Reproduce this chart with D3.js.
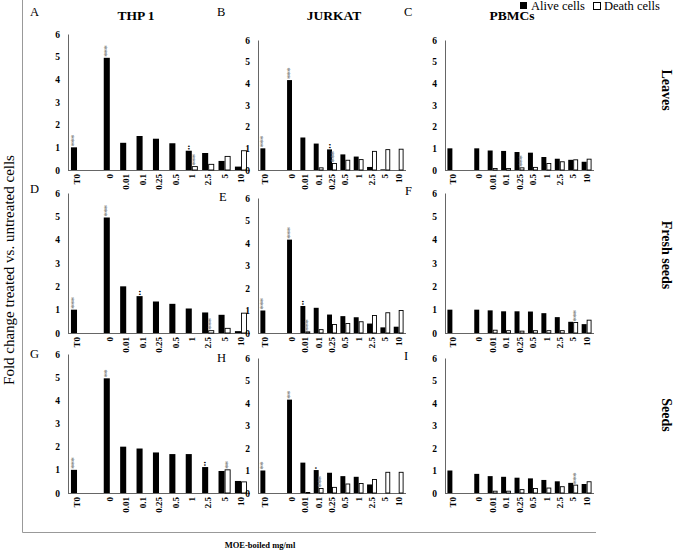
<!DOCTYPE html>
<html><head><meta charset="utf-8">
<script src="https://cdn.jsdelivr.net/npm/d3@7"></script>
<style>body{margin:0;background:#fff}svg{display:block}text{font-family:"Liberation Serif","Times New Roman",serif}</style>
</head><body><svg id="c" width="677" height="555"></svg>
<script>
// ---------- DATA ----------
const doses = ["T0","0","0.01","0.1","0.25","0.5","1","2.5","5","10"];
const cellLines = ["THP 1","JURKAT","PBMCs"];
const extracts = ["Leaves","Fresh seeds","Seeds"];
const panelLetters = ["A","B","C","D","E","F","G","H","I"];
const yTicks = [0,1,2,3,4,5,6];
const legendItems = ["Alive cells","Death cells"];

const aliveA = [1.0,4.95,1.2,1.5,1.38,1.18,0.85,0.75,0.4,0.15];
const deathA = [0,0,0,0,0,0,0.15,0.25,0.6,0.85];
const aliveB = [1.0,4.15,1.5,1.22,0.95,0.72,0.62,0.14,0.03,0];
const deathB = [0,0,0,0.1,0.3,0.45,0.48,0.86,0.94,0.96];
const aliveC = [1.0,1.0,0.9,0.88,0.83,0.8,0.6,0.52,0.47,0.38];
const deathC = [0,0,0.07,0.07,0.1,0.12,0.3,0.38,0.47,0.5];
const aliveD = [1.0,4.95,2.0,1.58,1.35,1.25,1.05,0.88,0.78,0.08];
const deathD = [0,0,0,0,0,0,0,0.1,0.2,0.85];
const aliveE = [1.0,4.15,1.2,1.12,0.82,0.75,0.7,0.42,0.25,0.28];
const deathE = [0,0,0.05,0.15,0.38,0.42,0.5,0.78,0.9,1.0];
const aliveF = [1.0,1.0,0.97,0.93,0.93,0.92,0.85,0.68,0.48,0.38];
const deathF = [0,0,0.12,0.1,0.08,0.1,0.1,0.1,0.45,0.55];
const aliveG = [1.0,4.95,2.0,1.92,1.75,1.68,1.68,1.12,0.95,0.52];
const deathG = [0,0,0,0,0,0,0,0,1.0,0.48];
const aliveH = [1.0,4.15,1.35,1.02,0.9,0.75,0.72,0.38,0,0];
const deathH = [0,0,0.02,0.2,0.25,0.4,0.42,0.6,0.92,0.92];
const aliveI = [1.0,0.85,0.75,0.72,0.68,0.65,0.58,0.52,0.45,0.4];
const deathI = [0,0,0.08,0.08,0.15,0.2,0.22,0.28,0.35,0.5];

// significance marks: [dose, series, label]
const marksA = [["T0","alive","***"],["0","alive","***"],["1","alive","••"],["1","death","***"]];
const marksB = [["T0","alive","***"],["0","alive","***"],["0.25","alive","••"],["0.25","death","***"]];
const marksC = [["0.25","death","***"]];
const marksD = [["T0","alive","***"],["0","alive","***"],["0.1","alive","••"],["2.5","death","***"]];
const marksE = [["T0","alive","***"],["0","alive","***"],["0.01","alive","••"],["0.01","death","***"]];
const marksF = [["5","death","***"]];
const marksG = [["T0","alive","***"],["0","alive","**"],["2.5","alive","••"],["5","death","**"]];
const marksH = [["T0","alive","**"],["0","alive","**"],["0.1","alive","•"],["0.1","death","***"]];
const marksI = [["5","death","***"]];

const alive = [aliveA,aliveB,aliveC,aliveD,aliveE,aliveF,aliveG,aliveH,aliveI];
const death = [deathA,deathB,deathC,deathD,deathE,deathF,deathG,deathH,deathI];
const marks = [marksA,marksB,marksC,marksD,marksE,marksF,marksG,marksH,marksI];

// ---------- LAYOUT ----------
const svg = d3.select("#c");
const colRange = [[68,250],[258,406],[445,594]];
const rowZero = [170,333,493];
const panelTop = [[34,40,40],[193,198,193],[354,358,358]];
const letterPos = [[30,16],[217,16],[404,16],[30,193],[219,201],[405,195],[30,358],[217,362],[404,360]];
const slots = ["T0","gap"].concat(doses.slice(1));
const serif = '"Liberation Serif","Times New Roman",serif';

// frame
svg.append("path").attr("d","M22.5,0V532.5H596").attr("fill","none").attr("stroke","#999").attr("stroke-width",1);

// y title
svg.append("text").attr("transform","translate(14,270) rotate(-90)").attr("text-anchor","middle")
  .attr("font-size",15).text("Fold change treated vs. untreated cells");
// x title
svg.append("text").attr("x",260).attr("y",548).attr("text-anchor","middle").attr("font-size",8.5)
  .attr("font-weight","bold").text("MOE-boiled mg/ml");

// legend
const lg = svg.append("g");
lg.append("rect").attr("x",520).attr("y",2).attr("width",7).attr("height",7).attr("fill","#000");
lg.append("text").attr("x",531).attr("y",10).attr("font-size",12.5).text(legendItems[0]);
lg.append("rect").attr("x",593.5).attr("y",2.5).attr("width",7).attr("height",7).attr("fill","#fff").attr("stroke","#000");
lg.append("text").attr("x",604).attr("y",10).attr("font-size",12.5).text(legendItems[1]);

// column titles
const titleX = [136,334,512];
cellLines.forEach((t,i)=>svg.append("text").attr("x",titleX[i]).attr("y",20).attr("text-anchor","middle")
  .attr("font-size",13.5).attr("font-weight","bold").text(t));

// row labels
const rowLabelY = [90,255,415];
extracts.forEach((t,i)=>svg.append("text").attr("transform",`translate(662,${rowLabelY[i]}) rotate(90)`)
  .attr("text-anchor","middle").attr("font-size",14).attr("font-weight","bold").text(t));

// panels
for (let r=0;r<3;r++) for (let c=0;c<3;c++) {
  const k = r*3+c;
  const g = svg.append("g");
  const x = d3.scaleBand().domain(slots).range(colRange[c]).paddingInner(0).paddingOuter(0.05);
  const y = d3.scaleLinear().domain([0,6]).range([rowZero[r], panelTop[r][c]]);
  const bw = x.bandwidth()*0.37;
  const x0 = d => x(d) + x.bandwidth()/2 - bw;

  // letter
  g.append("text").attr("x",letterPos[k][0]).attr("y",letterPos[k][1]).attr("font-size",12.5).text(panelLetters[k]);

  // y axis
  const ya = g.append("g").attr("transform",`translate(${colRange[c][0]},0)`)
    .call(d3.axisLeft(y).tickValues(yTicks).tickSize(0).tickPadding(8).tickFormat(d3.format("d")));
  ya.select(".domain").attr("stroke","#666");
  ya.selectAll("text").attr("font-family",serif).attr("font-weight","bold").attr("font-size",9.5).attr("fill","#000");

  // x axis
  const xa = g.append("g").attr("transform",`translate(0,${rowZero[r]})`)
    .call(d3.axisBottom(x).tickValues(doses).tickSize(0).tickPadding(0));
  xa.select(".domain").attr("stroke","#666").attr("d",`M${colRange[c][0]},0.5H${colRange[c][1]}`);
  xa.selectAll("text").attr("font-family",serif).attr("font-weight","bold").attr("font-size",9).attr("fill","#000")
    .attr("transform","rotate(-90)").attr("text-anchor","end").attr("dy","0.35em").attr("x",-4).attr("y",0);

  // bars
  g.selectAll(".a").data(doses.map((d,i)=>({d,v:alive[k][i]}))).join("rect")
    .attr("x",d=>x0(d.d)).attr("width",bw).attr("y",d=>y(d.v)).attr("height",d=>y(0)-y(d.v)).attr("fill","#000");
  g.selectAll(".dd").data(doses.map((d,i)=>({d,v:death[k][i]})).filter(o=>o.v>0)).join("rect")
    .attr("x",d=>x0(d.d)+bw+0.5).attr("width",bw-1).attr("y",d=>y(d.v)).attr("height",d=>y(0)-y(d.v))
    .attr("fill","#fff").attr("stroke","#000").attr("stroke-width",0.9);

  // marks
  marks[k].forEach(([d,s,t])=>{
    const i = doses.indexOf(d);
    const v = s==="alive"? alive[k][i] : death[k][i];
    const cx = s==="alive"? x0(d)+bw/2 : x0(d)+bw*1.5;
    const dot = t.includes("•");
    g.append("text").attr("transform",`translate(${cx},${y(v)-1}) rotate(-90)`)
      .attr("dy","0.35em").attr("font-size",dot?6:8.5).attr("font-weight","bold")
      .attr("fill",dot?"#000":"#888").attr("letter-spacing",dot?0.5:-0.6).text(t);
  });
}
</script></body></html>
